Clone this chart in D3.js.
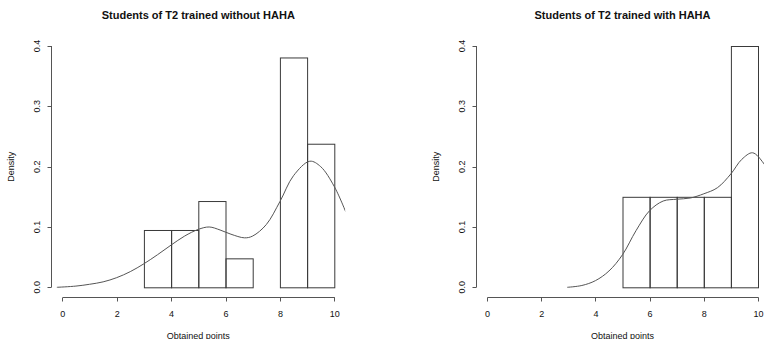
<!DOCTYPE html>
<html>
<head>
<meta charset="utf-8">
<script src="https://cdn.jsdelivr.net/npm/d3@7"></script>
<style>
  body { margin: 0; background: #fff; }
  svg text { font-family: "Liberation Sans", Arial, Helvetica, sans-serif; fill: #111; }
</style>
</head>
<body>
<div id="chart"></div>
<script>
'use strict';

// histogram breaks and densities
const leftBreaks = [3, 4, 5, 6, 7, 8, 9, 10];
const leftDensity = [0.095, 0.095, 0.143, 0.048, 0, 0.381, 0.238];
const rightBreaks = [5, 6, 7, 8, 9, 10];
const rightDensity = [0.15, 0.15, 0.15, 0.15, 0.4];

// density curves
const leftCurveX = [-0.2, 0.5, 1.0, 1.5, 2.0, 2.5, 3.0, 3.5, 4.0, 4.5, 5.0, 5.4, 5.8, 6.2, 6.7, 7.0, 7.5, 8.0, 8.5, 9.1, 9.5, 10.0, 10.42];
const leftCurveY = [0.000, 0.002, 0.005, 0.009, 0.016, 0.026, 0.039, 0.054, 0.070, 0.085, 0.096, 0.100, 0.095, 0.088, 0.082, 0.085, 0.104, 0.142, 0.185, 0.209, 0.200, 0.167, 0.125];
const rightCurveX = [2.96, 3.5, 4.0, 4.5, 5.0, 5.5, 6.0, 6.5, 7.0, 7.5, 8.0, 8.5, 9.0, 9.4, 9.8, 10.2, 10.4];
const rightCurveY = [0.000, 0.003, 0.011, 0.027, 0.054, 0.094, 0.127, 0.143, 0.146, 0.148, 0.155, 0.165, 0.188, 0.212, 0.223, 0.206, 0.190];

const titles = ['Students of T2 trained without HAHA', 'Students of T2 trained with HAHA'];
const xTicks = [0, 2, 4, 6, 8, 10];
const yTicks = [0, 0.1, 0.2, 0.3, 0.4];
const xLabel = 'Obtained points';
const yLabel = 'Density';

const width = 764, height = 339;
const svg = d3.select('#chart').append('svg')
    .attr('width', width)
    .attr('height', height);

const stroke = '#3a3a3a';

function drawPanel(idx, left, right, breaks, dens, cx, cy) {
    let x = d3.scaleLinear().domain([-0.4, 10.4]).range([left, right]);
    let y = d3.scaleLinear().domain([-0.016, 0.416]).range([296.95, 36.35]);
    let g = svg.append('g');

    let clipId = 'clip' + idx;
    svg.append('clipPath').attr('id', clipId)
        .append('rect')
        .attr('x', left).attr('y', y(0.416))
        .attr('width', right - left).attr('height', y(-0.016) - y(0.416));

    // bars
    let bins = dens.map((d, i) => ({x0: breaks[i], x1: breaks[i + 1], d: d}));
    g.selectAll('.bar').data(bins).enter().append('rect')
        .attr('class', 'bar')
        .attr('x', d => x(d.x0) + 0.5)
        .attr('y', d => y(d.d) + 0.5)
        .attr('width', d => x(d.x1) - x(d.x0))
        .attr('height', d => y(0) - y(d.d))
        .attr('fill', 'none')
        .attr('stroke', stroke)
        .attr('stroke-width', 1);

    // density curve
    let pts = cx.map((v, i) => [v, cy[i]]);
    let line = d3.line()
        .x(d => x(d[0]))
        .y(d => y(d[1]))
        .curve(d3.curveCatmullRom.alpha(0.5));
    g.append('path')
        .attr('d', line(pts))
        .attr('clip-path', 'url(#' + clipId + ')')
        .attr('fill', 'none')
        .attr('stroke', '#555')
        .attr('stroke-width', 1);

    // x axis
    let xa = g.append('g').attr('transform', 'translate(0.5,' + (Math.round(y(-0.016)) + 0.5) + ')');
    xa.append('line')
        .attr('x1', x(xTicks[0])).attr('x2', x(xTicks[xTicks.length - 1]))
        .attr('stroke', '#555');
    xa.selectAll('.xt').data(xTicks).enter().append('line')
        .attr('x1', d => Math.round(x(d))).attr('x2', d => Math.round(x(d)))
        .attr('y1', 0).attr('y2', 4)
        .attr('stroke', '#555');
    xa.selectAll('.xl').data(xTicks).enter().append('text')
        .attr('x', d => x(d))
        .attr('y', 19.5)
        .attr('text-anchor', 'middle')
        .style('font-size', '9px')
        .text(d => d);

    // y axis
    let axX = Math.round(left) + 0.5;
    let ya = g.append('g');
    ya.append('line')
        .attr('x1', axX).attr('x2', axX)
        .attr('y1', y(0)).attr('y2', y(0.4))
        .attr('stroke', '#555');
    ya.selectAll('.yt').data(yTicks).enter().append('line')
        .attr('x1', axX - 4).attr('x2', axX)
        .attr('y1', d => Math.round(y(d)) + 0.5).attr('y2', d => Math.round(y(d)) + 0.5)
        .attr('stroke', '#555');
    ya.selectAll('.yl').data(yTicks).enter().append('text')
        .attr('transform', d => 'translate(' + (axX - 12) + ',' + y(d) + ') rotate(-90)')
        .attr('text-anchor', 'middle')
        .style('font-size', '9px')
        .text(d => d3.format('.1f')(d));

    // labels and title
    let mid = (left + right) / 2;
    g.append('text')
        .attr('x', mid).attr('y', 18.5)
        .attr('text-anchor', 'middle')
        .style('font-size', '11px')
        .style('font-weight', 'bold')
        .text(titles[idx]);
    g.append('text')
        .attr('x', mid).attr('y', 338.5)
        .attr('text-anchor', 'middle')
        .style('font-size', '9px')
        .text(xLabel);
    g.append('text')
        .attr('transform', 'translate(' + (left - 37) + ',' + ((y(-0.016) + y(0.416)) / 2) + ') rotate(-90)')
        .attr('text-anchor', 'middle')
        .style('font-size', '9px')
        .text(yLabel);
}

drawPanel(0, 51.42, 345.18, leftBreaks, leftDensity, leftCurveX, leftCurveY);
drawPanel(1, 476.16, 768.84, rightBreaks, rightDensity, rightCurveX, rightCurveY);
</script>
</body>
</html>
